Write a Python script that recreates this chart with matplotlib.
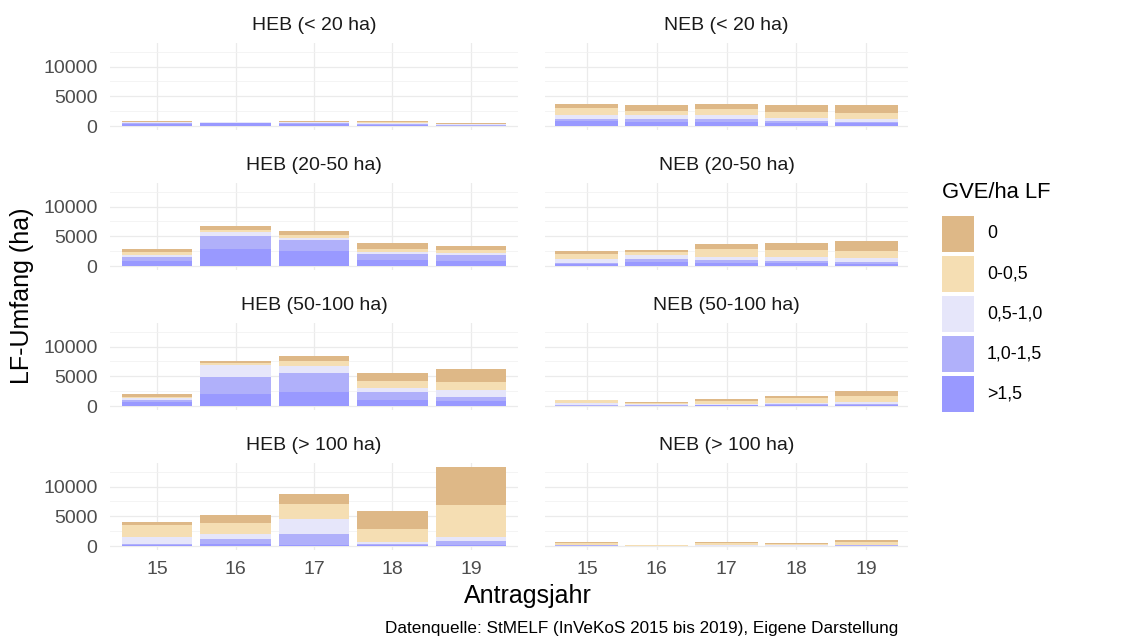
import numpy as np
import matplotlib
matplotlib.use('Agg')
import matplotlib.pyplot as plt
from matplotlib.patches import Rectangle

plt.rcParams['font.family'] = ['Liberation Sans', 'DejaVu Sans']

years = [15, 16, 17, 18, 19]
# classes from bottom of the stack to top
classes = ['>1,5', '1,0-1,5', '0,5-1,0', '0-0,5', '0']
colors = ['#9999FF', '#B0B0FA', '#E6E6FA', '#F5DEB3', '#DEB887']

# rows: >1,5 / 1,0-1,5 / 0,5-1,0 / 0-0,5 / 0 ; columns: years 15..19
heb_u20 = [[330, 440, 280, 170, 80],
           [250, 150, 220, 220, 100],
           [100, 40, 110, 110, 100],
           [70, 20, 110, 140, 140],
           [70, 20, 110, 140, 140]]
heb_20_50 = [[800, 2830, 2500, 940, 890],
             [700, 2270, 1830, 1060, 890],
             [350, 600, 450, 440, 390],
             [550, 350, 500, 500, 500],
             [550, 620, 550, 890, 660]]
heb_50_100 = [[670, 2000, 2440, 1000, 830],
              [330, 2940, 3060, 1330, 610],
              [330, 2000, 1280, 670, 1230],
              [270, 230, 780, 1280, 1330],
              [400, 330, 830, 1220, 2220]]
heb_o100 = [[220, 300, 170, 100, 170],
            [170, 870, 1890, 180, 660],
            [1050, 830, 2440, 330, 730],
            [2120, 1940, 2500, 2220, 5330],
            [440, 1340, 1830, 3000, 6440]]
neb_u20 = [[780, 670, 720, 560, 440],
           [330, 560, 390, 220, 170],
           [720, 560, 670, 500, 500],
           [1170, 780, 1110, 1060, 1110],
           [720, 940, 830, 1170, 1280]]
neb_20_50 = [[390, 670, 560, 440, 390],
             [170, 440, 440, 330, 220],
             [560, 670, 560, 670, 720],
             [890, 500, 1330, 1220, 1170],
             [500, 500, 780, 1280, 1670]]
neb_50_100 = [[50, 70, 100, 100, 170],
              [100, 100, 100, 170, 170],
              [280, 200, 220, 280, 330],
              [560, 200, 500, 720, 1000],
              [100, 100, 280, 500, 940]]
neb_o100 = [[50, 10, 30, 20, 50],
            [50, 20, 40, 40, 50],
            [110, 40, 80, 70, 100],
            [330, 80, 300, 200, 450],
            [170, 50, 150, 120, 400]]

panels = [('HEB (< 20 ha)', heb_u20), ('NEB (< 20 ha)', neb_u20),
          ('HEB (20-50 ha)', heb_20_50), ('NEB (20-50 ha)', neb_20_50),
          ('HEB (50-100 ha)', heb_50_100), ('NEB (50-100 ha)', neb_50_100),
          ('HEB (> 100 ha)', heb_o100), ('NEB (> 100 ha)', neb_o100)]

W, H = 1139, 641
fig = plt.figure(figsize=(W / 100, H / 100), dpi=100)

col_x = [(110, 408), (545, 363)]
row_top = [43, 183, 323, 463]
ph = 87

for i, (title, data) in enumerate(panels):
    r, c = divmod(i, 2)
    x0, pw = col_x[c]
    ax = fig.add_axes([x0 / W, 1 - (row_top[r] + ph) / H, pw / W, ph / H])
    bottom = np.zeros(len(years))
    for k in range(len(classes)):
        vals = np.array(data[k])
        ax.bar(years, vals, bottom=bottom, width=0.9, color=colors[k], linewidth=0)
        bottom += vals
    ax.set_xlim(14.4, 19.6)
    ax.set_ylim(-665, 13965)
    ax.set_xticks(years)
    ax.set_yticks([0, 5000, 10000])
    ax.set_yticks([2500, 7500, 12500], minor=True)
    ax.grid(True, which='major', color='#EBEBEB', linewidth=0.9)
    ax.grid(True, which='minor', axis='y', color='#F2F2F2', linewidth=0.6)
    ax.set_axisbelow(True)
    for s in ax.spines.values():
        s.set_visible(False)
    ax.tick_params(which='both', length=0, labelsize=14, colors='#4D4D4D')
    ax.tick_params(axis='y', pad=9)
    ax.tick_params(axis='x', pad=8)
    if c == 1:
        ax.set_yticklabels([])
    if r < 3:
        ax.set_xticklabels([])
    ax.text(0.5, 1 + 18 / ph, title, transform=ax.transAxes, ha='center', va='center',
            fontsize=14, color='#1A1A1A')

fig.text(22 / W, 1 - 296 / H, 'LF-Umfang (ha)', rotation=90, ha='center', va='center',
         fontsize=18, color='black')
fig.text(528 / W, 1 - 596 / H, 'Antragsjahr', ha='center', va='center', fontsize=18)
fig.text(898 / W, 1 - 628 / H, 'Datenquelle: StMELF (InVeKoS 2015 bis 2019), Eigene Darstellung',
         ha='right', va='center', fontsize=12.3)

# legend drawn by hand, top class first like ggplot
fig.text(942 / W, 1 - 193 / H, 'GVE/ha LF', ha='left', va='center', fontsize=15.8)
key_top = 216
for n, k in enumerate(range(4, -1, -1)):
    y = key_top + n * 40
    fig.patches.append(Rectangle((942 / W, 1 - (y + 36) / H), 32 / W, 36 / H,
                                 transform=fig.transFigure, facecolor=colors[k],
                                 edgecolor='none'))
    fig.text(987 / W, 1 - (y + 18) / H, classes[k], ha='left', va='center', fontsize=12.8)

fig.savefig('out.png', dpi=100)
